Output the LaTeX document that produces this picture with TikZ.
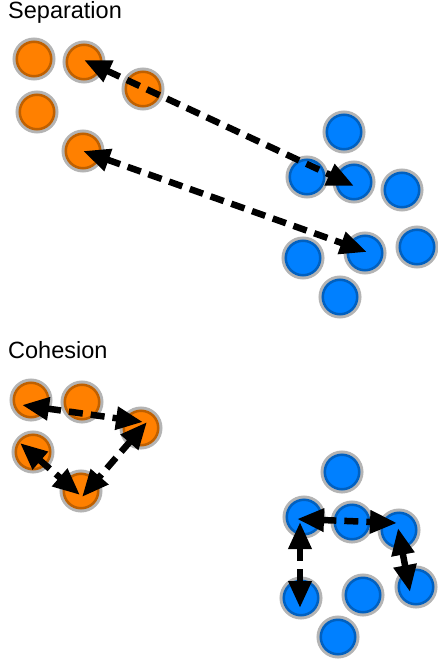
\documentclass[tikz,border=0pt]{standalone}
\usepackage{fontspec}
\setmainfont{Liberation Sans}
\usetikzlibrary{arrows.meta}
\definecolor{oFill}{HTML}{FF8000}
\definecolor{oRing}{HTML}{BF6000}
\definecolor{bFill}{HTML}{0080FF}
\definecolor{bRing}{HTML}{0060C0}
\definecolor{halo}{HTML}{B4B4B4}
\tikzset{
  agent/.style={circle, inner sep=0pt, minimum size=34.5pt, line width=2.5pt,
    preaction={draw=halo, line width=8.5pt}},
  oagent/.style={agent, draw=oRing, fill=oFill},
  bagent/.style={agent, draw=bRing, fill=bFill},
  force/.style={line width=6.5pt, black, dash pattern=on 14pt off 8pt,
    {Triangle[length=27pt,width=22pt]}-{Triangle[length=27pt,width=22pt]}},
  title/.style={anchor=base west, inner sep=0pt, font=\fontsize{23.5pt}{28pt}\selectfont}
}
\begin{document}
\begin{tikzpicture}[x=1pt,y=-1pt]
\useasboundingbox (0,0) rectangle (437,666);
% Separation
\node[title] (tsep) at (8,19) {Separation};
\node[oagent] (o1) at (34,59) {};
\node[oagent] (o2) at (84,62) {};
\node[oagent] (o3) at (143,89) {};
\node[oagent] (o4) at (37,112) {};
\node[oagent] (o5) at (83,151) {};
\node[bagent] (b1) at (344,132) {};
\node[bagent] (b2) at (307,177) {};
\node[bagent] (b3) at (354,182) {};
\node[bagent] (b4) at (402,190) {};
\node[bagent] (b5) at (303,258) {};
\node[bagent] (b6) at (365,253) {};
\node[bagent] (b7) at (417,247) {};
\node[bagent] (b8) at (340,297) {};
\draw[force] ([shift={(0,-2)}]o2.center) -- ([shift={(0,4)}]b3.center);
\draw[force] (o5.center) -- ([shift={(2,-1)}]b6.center);
% Cohesion
\node[title] (tcoh) at (8,358) {Cohesion};
\node[oagent] (c1) at (31,400) {};
\node[oagent] (c2) at (82,402) {};
\node[oagent] (c3) at (141,428) {};
\node[oagent] (c4) at (33,452) {};
\node[oagent] (c5) at (81,491) {};
\node[bagent] (d1) at (342,472) {};
\node[bagent] (d2) at (304,517) {};
\node[bagent] (d3) at (352,522) {};
\node[bagent] (d4) at (399,530) {};
\node[bagent] (d5) at (301,598) {};
\node[bagent] (d6) at (363,595) {};
\node[bagent] (d7) at (416,587) {};
\node[bagent] (d8) at (338,637) {};
\draw[force] ([shift={(-9,5)}]c1.center) -- ([shift={(2,-6)}]c3.center);
\draw[force] ([shift={(6,-6)}]c3.center) -- ([shift={(1,6)}]c5.center);
\draw[force] ([shift={(-13,-9)}]c4.center) -- ([shift={(-1,4)}]c5.center);
\draw[force] ([shift={(-7,2)}]d2.center) -- ([shift={(-2,-7)}]d4.center);
\draw[force] ([shift={(-4,5)}]d2.center) -- ([shift={(-1,10)}]d5.center);
\draw[force] ([shift={(-1,-2)}]d4.center) -- ([shift={(-6,5)}]d7.center);
\end{tikzpicture}
\end{document}
